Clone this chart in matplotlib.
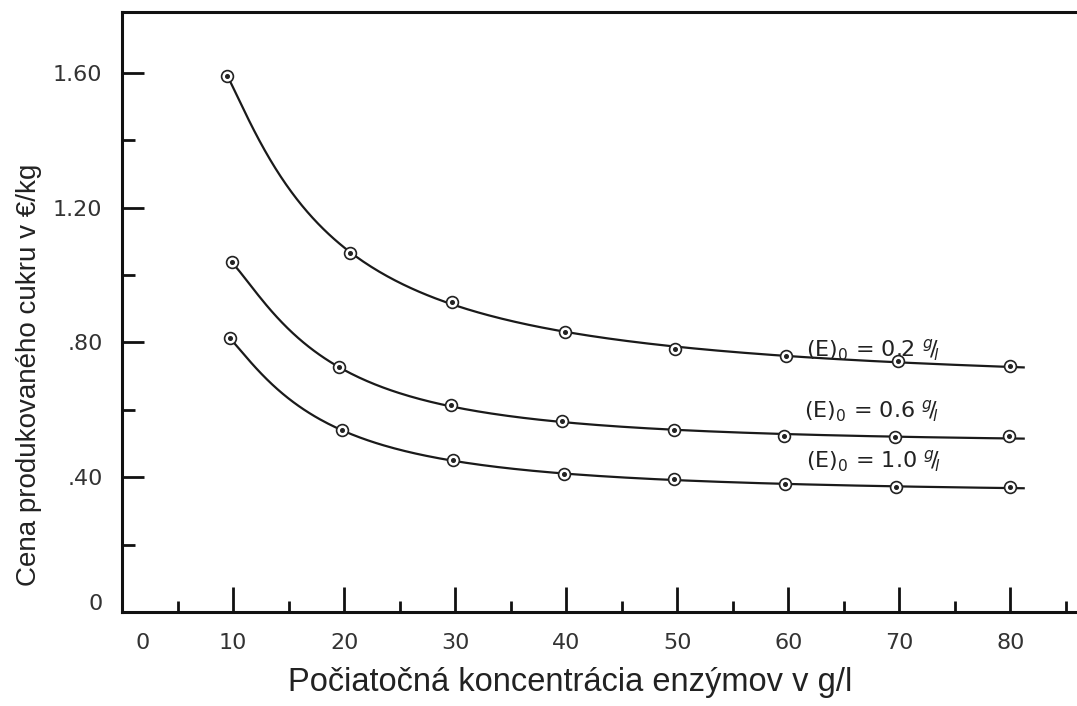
import numpy as np
import matplotlib.pyplot as plt
import matplotlib.transforms as mtransforms
from matplotlib.ticker import FixedLocator

# measured cost of produced sugar for three initial enzyme loadings
x_02 = [9.5, 20.5, 29.7, 39.9, 49.8, 59.8, 69.9, 80.0]
y_02 = [1.590, 1.066, 0.921, 0.830, 0.779, 0.759, 0.744, 0.729]

x_06 = [9.9, 19.5, 29.6, 39.6, 49.7, 59.6, 69.6, 79.9]
y_06 = [1.037, 0.726, 0.613, 0.566, 0.539, 0.521, 0.519, 0.521]

x_10 = [9.7, 19.8, 29.8, 39.8, 49.7, 59.7, 69.7, 80.0]
y_10 = [0.813, 0.539, 0.450, 0.409, 0.394, 0.379, 0.370, 0.370]

curve_end = 81.2

labels = [r"(E)$_{\mathregular{0}}$ = 0.2 $^{g}\!/\!_{l}$",
          r"(E)$_{\mathregular{0}}$ = 0.6 $^{g}\!/\!_{l}$",
          r"(E)$_{\mathregular{0}}$ = 1.0 $^{g}\!/\!_{l}$"]
label_pos = [(61.6, 0.776), (61.4, 0.596), (61.6, 0.447)]

yticks = [0, 0.4, 0.8, 1.2, 1.6]
yticklabels = ["0", ".40", ".80", "1.20", "1.60"]
xticks = [0, 10, 20, 30, 40, 50, 60, 70, 80]


def smooth_curve(xs, ys):
    # least-squares fit in 1/x, like a drawn french-curve through the points
    u = 1.0 / np.asarray(xs)
    coef = np.polyfit(u, ys, 3)
    xx = np.linspace(xs[0], curve_end, 300)
    return xx, np.polyval(coef, 1.0 / xx)


fig = plt.figure(figsize=(10.77, 7.06), dpi=100)
ax = fig.add_axes([122 / 1077, 94 / 706, 955 / 1077, 600 / 706])

for xs, ys in [(x_02, y_02), (x_06, y_06), (x_10, y_10)]:
    xx, yy = smooth_curve(xs, ys)
    ax.plot(xx, yy, color="#1a1a1a", lw=1.6, zorder=2)
    ax.plot(xs, ys, ls="none", marker="o", ms=8.5, mfc="white",
            mec="#222222", mew=1.2, zorder=3)
    ax.plot(xs, ys, ls="none", marker="o", ms=2.6, color="#222222", zorder=4)

for txt, (tx, ty) in zip(labels, label_pos):
    ax.text(tx, ty, txt, fontsize=16, ha="left", va="center", color="#222222")

ax.set_xlim(0, 86)
ax.set_ylim(0, 1.78)

ax.spines["right"].set_visible(False)
for side in ["left", "bottom", "top"]:
    ax.spines[side].set_linewidth(2.2)
    ax.spines[side].set_color("#111111")

ax.xaxis.set_major_locator(FixedLocator(xticks))
ax.xaxis.set_minor_locator(FixedLocator([5, 15, 25, 35, 45, 55, 65, 75, 85]))
ax.yaxis.set_major_locator(FixedLocator(yticks))
ax.yaxis.set_minor_locator(FixedLocator([0.2, 0.6, 1.0, 1.4]))
ax.set_yticklabels(yticklabels)

ax.tick_params(axis="both", which="both", direction="in", color="#111111",
               width=2, labelsize=16, labelcolor="#333333")
ax.tick_params(axis="x", which="major", length=18, pad=15)
ax.tick_params(axis="x", which="minor", length=8)
ax.tick_params(axis="y", which="major", length=16, pad=14)
ax.tick_params(axis="y", which="minor", length=9)

# the zero labels sit a little off their ticks
zx = ax.xaxis.get_major_ticks()[0].label1
zx.set_transform(zx.get_transform() + mtransforms.ScaledTranslation(15 / 72, 0, fig.dpi_scale_trans))
zy = ax.yaxis.get_major_ticks()[0].label1
zy.set_transform(zy.get_transform() + mtransforms.ScaledTranslation(0, 7 / 72, fig.dpi_scale_trans))

ax.set_xlabel("Počiatočná koncentrácia enzýmov v g/l", fontsize=23.5,
              family="Liberation Sans", color="#222222")
ax.xaxis.set_label_coords(0.469, -0.091)
ax.set_ylabel("Cena produkovaného cukru v €/kg", fontsize=20,
              family="Liberation Sans", color="#222222")
ax.yaxis.set_label_coords(-0.084, 0.395)

fig.savefig("out.png", dpi=100)
